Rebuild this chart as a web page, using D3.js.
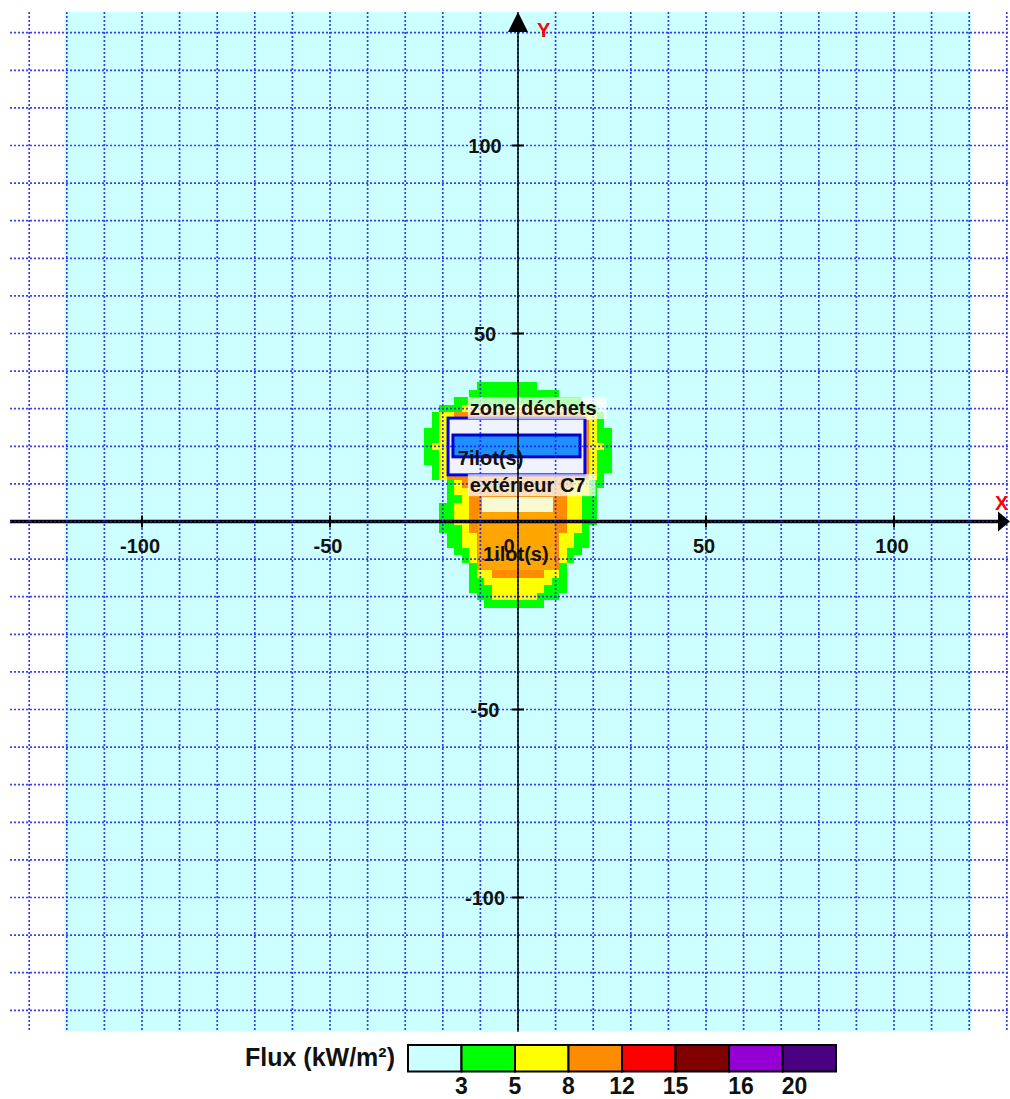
<!DOCTYPE html>
<html lang="fr">
<head>
<meta charset="UTF-8">
<title>Flux thermiques</title>
<script src="https://cdn.jsdelivr.net/npm/d3@7"></script>
<style>
    body { margin: 0; background: #fff; }
    svg text { font-family: "Liberation Sans", Arial, sans-serif; font-weight: bold; }
</style>
</head>
<body>
<div id="chart"></div>
<script>
// flux thresholds (kW/m2) and their colours, first one is "< 3"
const fluxColors = ["#ccffff", "#00ff00", "#ffff00", "#ff8c00", "#ff0000", "#800000", "#9400d3", "#4b0082"];
const legendTicks = [3, 5, 8, 12, 15, 16, 20];

// computed area (m): [xmin, xmax, ymin, ymax]
const calcArea = [-120.6, 120.6, -135.7, 135.5];

// flux cells are 2 m x 2 m : one entry per row -> [row centre y, first cell x, last cell x]
const greenRows = [
    [36, -10, 4], [34, -12, 10], [32, -16, 16], [30, -20, 20], [28, -22, 22], [26, -22, 22],
    [24, -24, 24], [22, -24, 24], [20, -24, 24], [18, -24, 24], [16, -24, 24], [14, -22, 24],
    [12, -22, 22], [10, -18, 22], [8, -18, 20], [6, -18, 20], [4, -20, 20], [2, -20, 20],
    [0, -20, 20], [-2, -20, 18], [-4, -18, 18], [-6, -18, 18], [-8, -16, 16], [-10, -14, 14],
    [-12, -12, 12], [-14, -12, 12], [-16, -12, 12], [-18, -12, 12], [-20, -10, 10], [-22, -8, 6]
];
const yellowRows = [
    [30, -14, 14], [28, -20, 20], [26, -20, 20], [24, -20, 20], [22, -20, 20], [20, -22, 22],
    [18, -20, 20], [16, -20, 20], [14, -20, 20], [12, -20, 20], [10, -16, 18], [8, -16, 18],
    [6, -14, 16], [4, -16, 16], [2, -16, 16], [0, -16, 16], [-2, -14, 16], [-4, -14, 14],
    [-6, -14, 14], [-8, -12, 12], [-10, -12, 12], [-14, -10, 10], [-16, -8, 8], [-18, -6, 6],
    [-20, -6, 4]
];
const orangeRows = [
    [28, -16, 16], [26, -18, 18], [24, -18, 18], [22, -18, 18], [20, -18, 18], [18, -18, 18],
    [16, -18, 18], [14, -18, 18], [12, -18, 18], [10, -14, 14], [8, -12, 12], [6, -12, 12],
    [4, -12, 12], [2, -12, 12], [0, -12, 12], [-2, -12, 12], [-4, -10, 10], [-6, -10, 10],
    [-8, -10, 10], [-10, -10, 10], [-12, -10, 10], [-14, -6, 6]
];

// storage zones (m)
const zoneNames = ["zone déchets", "7 ilots", "extérieur C7 haut", "extérieur C7"];
const zoneKinds = ["zone", "ilot", "pale", "fire"];
const zoneX = [[-18.6, 17.8], [-17.3, 16.5], [-9.6, 9.3], [-10.6, 9.8]];
const zoneY = [[12.4, 27.5], [17.2, 23.0], [2.5, 6.5], [-12.9, 2.5]];

// texts on the map, anchor in m (baseline)
const labelTexts = ["zone déchets", "7ilot(s)", "extérieur C7", "1ilot(s)"];
const labelX = [-12.8, -16, -12.8, -9.3];
const labelY = [28.3, 15, 7.8, -10.5];
const labelBg = [true, false, true, false];

const xTicks = [-100, -50, 0, 50, 100];
const yTicks = [100, 50, -50, -100];
const gridValues = d3.range(-130, 131, 10);

const zoneStyle = {
    zone: {fill: "#eef3fd", stroke: "#0000ff", sw: 3},
    ilot: {fill: "#1e90ff", stroke: "#0000d0", sw: 3},
    pale: {fill: "#fafad2", stroke: "none", sw: 0},
    fire: {fill: "#ffa500", stroke: "none", sw: 0}
};

const W = 1010, H = 1099;
const cell = 2;
// 3.76 px per metre, origin at (518, 521.5)
const x = d3.scaleLinear().domain([0, 100]).range([518, 894]);
const y = d3.scaleLinear().domain([0, 100]).range([521.5, 145.5]);
const xEnd = x.invert(1010);
const gridTop = 135.5, gridBottom = -135.7, gridLeft = -135.1;

const svg = d3.select("#chart").append("svg")
    .attr("width", W)
    .attr("height", H);

svg.append("rect")
    .attr("width", W)
    .attr("height", H)
    .attr("fill", "#fff");

// computed area
svg.append("rect")
    .attr("x", x(calcArea[0]))
    .attr("y", y(calcArea[3]))
    .attr("width", x(calcArea[1]) - x(calcArea[0]))
    .attr("height", y(calcArea[2]) - y(calcArea[3]))
    .attr("fill", fluxColors[0]);

// flux cells
[greenRows, yellowRows, orangeRows].forEach((rows, i) => {
    svg.append("g")
        .attr("shape-rendering", "crispEdges")
        .selectAll("rect")
        .data(rows)
        .join("rect")
        .attr("x", d => x(d[1] - cell / 2))
        .attr("y", d => y(d[0] + cell / 2))
        .attr("width", d => x(d[2] + cell / 2) - x(d[1] - cell / 2))
        .attr("height", d => y(d[0] - cell / 2) - y(d[0] + cell / 2))
        .attr("fill", fluxColors[i + 1]);
});

// zones
svg.append("g")
    .selectAll("rect")
    .data(zoneNames)
    .join("rect")
    .attr("x", (d, i) => x(zoneX[i][0]))
    .attr("y", (d, i) => y(zoneY[i][1]))
    .attr("width", (d, i) => x(zoneX[i][1]) - x(zoneX[i][0]))
    .attr("height", (d, i) => y(zoneY[i][0]) - y(zoneY[i][1]))
    .attr("fill", (d, i) => zoneStyle[zoneKinds[i]].fill)
    .attr("stroke", (d, i) => zoneStyle[zoneKinds[i]].stroke)
    .attr("stroke-width", (d, i) => zoneStyle[zoneKinds[i]].sw);

// x axis (thick) under the grid
svg.append("line")
    .attr("x1", x(gridLeft)).attr("x2", x(xEnd) - 8)
    .attr("y1", y(0)).attr("y2", y(0))
    .attr("stroke", "#000")
    .attr("stroke-width", 3.5);

// grid
const grid = svg.append("g")
    .attr("stroke", "#1a1aff")
    .attr("stroke-width", 1.7)
    .attr("stroke-dasharray", "2,2")
    .attr("opacity", 0.85);
grid.selectAll(".v")
    .data(gridValues)
    .join("line")
    .attr("class", "v")
    .attr("x1", d => x(d)).attr("x2", d => x(d))
    .attr("y1", y(gridTop)).attr("y2", y(gridBottom));
grid.selectAll(".h")
    .data(gridValues)
    .join("line")
    .attr("class", "h")
    .attr("y1", d => y(d)).attr("y2", d => y(d))
    .attr("x1", x(gridLeft)).attr("x2", x(xEnd));

// label backgrounds + labels
const labels = svg.append("g");
labelTexts.forEach((t, i) => {
    const txt = labels.append("text")
        .attr("x", x(labelX[i]))
        .attr("y", y(labelY[i]))
        .attr("font-size", 20)
        .attr("fill", "#111")
        .text(t);
    if (labelBg[i]) {
        const bb = txt.node().getBBox();
        labels.insert("rect", "text")
            .attr("x", bb.x - 2)
            .attr("y", bb.y)
            .attr("width", bb.width + 12)
            .attr("height", bb.height)
            .attr("fill", "#fff")
            .attr("opacity", 0.72);
    }
});

// y axis
svg.append("line")
    .attr("x1", x(0)).attr("x2", x(0))
    .attr("y1", y(gridTop) + 10).attr("y2", y(gridBottom))
    .attr("stroke", "#000")
    .attr("stroke-width", 1.5);
svg.append("path")
    .attr("d", `M${x(0)},${y(gridTop)} L${x(0) - 10},${y(gridTop) + 20} L${x(0) + 10},${y(gridTop) + 20} Z`)
    .attr("fill", "#000");
svg.append("path")
    .attr("d", `M${x(xEnd)},${y(0)} L${x(xEnd) - 12},${y(0) - 10} L${x(xEnd) - 12},${y(0) + 10} Z`)
    .attr("fill", "#000");

svg.append("text")
    .attr("x", x(0) + 19).attr("y", y(gridTop) + 25)
    .attr("font-size", 20).attr("fill", "#ff0000")
    .text("Y");
svg.append("text")
    .attr("x", x(xEnd) - 15).attr("y", y(0) - 12)
    .attr("font-size", 20).attr("fill", "#ff0000")
    .text("X");

// ticks
svg.append("g")
    .selectAll("line")
    .data(xTicks.filter(d => d !== 0))
    .join("line")
    .attr("x1", d => x(d)).attr("x2", d => x(d))
    .attr("y1", y(0) - 6).attr("y2", y(0) + 6)
    .attr("stroke", "#000").attr("stroke-width", 2);
svg.append("g")
    .selectAll("line")
    .data(yTicks)
    .join("line")
    .attr("y1", d => y(d)).attr("y2", d => y(d))
    .attr("x1", x(0) - 6).attr("x2", x(0) + 6)
    .attr("stroke", "#000").attr("stroke-width", 2);

svg.append("g")
    .selectAll("text")
    .data(xTicks)
    .join("text")
    .attr("x", d => x(d) - (d === 0 ? 9 : 2))
    .attr("y", y(0) + 31)
    .attr("text-anchor", "middle")
    .attr("font-size", 20)
    .attr("fill", "#111")
    .text(d => d);
svg.append("g")
    .selectAll("text")
    .data(yTicks)
    .join("text")
    .attr("x", x(0) - 33)
    .attr("y", d => y(d) + 7)
    .attr("text-anchor", "middle")
    .attr("font-size", 20)
    .attr("fill", "#111")
    .text(d => d);

// legend
const legendX = d3.scaleLinear().domain([0, fluxColors.length]).range([408, 836]);
const legend = svg.append("g");
legend.selectAll("rect")
    .data(fluxColors)
    .join("rect")
    .attr("x", (d, i) => legendX(i))
    .attr("y", 1045)
    .attr("width", (d, i) => legendX(i + 1) - legendX(i))
    .attr("height", 26.5)
    .attr("fill", d => d)
    .attr("stroke", "#000")
    .attr("stroke-width", 2);
legend.selectAll("text")
    .data(legendTicks)
    .join("text")
    .attr("x", (d, i) => legendX(i + 1) + (d >= 16 ? 12 : 0))
    .attr("y", 1094)
    .attr("text-anchor", "middle")
    .attr("font-size", 23)
    .attr("fill", "#111")
    .text(d => d);
legend.append("text")
    .attr("x", 395)
    .attr("y", 1066)
    .attr("text-anchor", "end")
    .attr("font-size", 25)
    .attr("fill", "#111")
    .text("Flux (kW/m²)");
</script>
</body>
</html>
